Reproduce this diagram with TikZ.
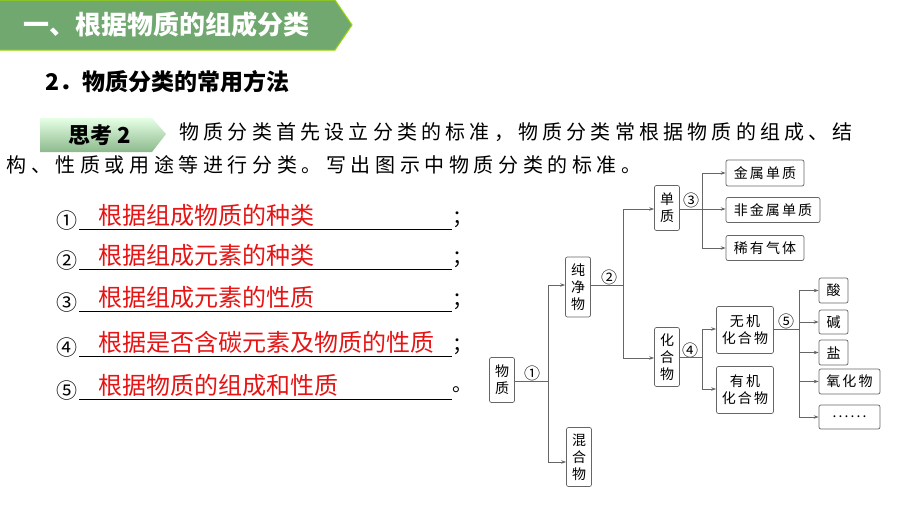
\documentclass[tikz,border=0pt]{standalone}
\usepackage{fontspec}
\setmainfont{Noto Sans CJK SC}
\usetikzlibrary{arrows.meta}
\definecolor{hdr}{RGB}{112,168,112}
\definecolor{ans}{RGB}{230,20,20}
\begin{document}
\begin{tikzpicture}[x=1pt,y=-1pt,
 bx/.style={draw=gray!80!black,rounded corners=2pt,line width=0.7pt,inner sep=1pt,font=\fontsize{14}{17}\selectfont\addfontfeature{LetterSpace=15},align=center,fill=white},
 ln/.style={draw=gray!80!black,line width=0.7pt},
 ar/.style={ln,-{Stealth[length=5pt,width=3.5pt]}},
 cn/.style={font=\fontsize{16}{16}\selectfont},
 ul/.style={line width=0.7pt}]
\useasboundingbox (0,0) rectangle (900,506);
% header
\fill[hdr] (0,0) -- (335,0) -- (352,25) -- (335,50) -- (0,50) -- cycle;
\draw[green!60!black!40!yellow,line width=1pt] (0,0) -- (335,0) -- (352,25) -- (335,50) -- (0,50);
\node[anchor=west,text=white,font=\fontsize{26}{28}\selectfont\bfseries] (h) at (20,25) {一、根据物质的组成分类};
\node[anchor=west,font=\fontsize{23}{25}\selectfont\bfseries] (s) at (42,82) {2．物质分类的常用方法};
% badge
\shade[top color=green!10!white,bottom color=hdr!80] (40,118) -- (152,118) -- (166,134) -- (152,152) -- (40,152) -- cycle;
\node[font=\fontsize{22}{24}\selectfont\bfseries] (b) at (100,135) {思考 2};
% paragraph
\node[anchor=west,font=\fontsize{20}{22}\selectfont\addfontfeature{LetterSpace=21}] (p1) at (176,132) {物质分类首先设立分类的标准，物质分类常根据物质的组成、结};
\node[anchor=west,font=\fontsize{20}{22}\selectfont\addfontfeature{LetterSpace=23}] (p2) at (3,165) {构、性质或用途等进行分类。写出图示中物质分类的标准。};
% answers
\foreach \y/\n/\t/\e in {218/①/根据组成物质的种类/；,258/②/根据组成元素的种类/；,300/③/根据组成元素的性质/；,345/④/根据是否含碳元素及物质的性质/；,388/⑤/根据物质的组成和性质/。}{
 \node[font=\fontsize{21}{22}\selectfont] at (67,\y+3) {\n};
 \draw[ul] (79,\y+11) -- (452,\y+11);
 \node[anchor=west,text=ans,font=\fontsize{24}{26}\selectfont] at (95,\y-3) {\t};
 \node[font=\fontsize{20}{22}\selectfont] at (462,\y+2) {\e};
}
% tree
\node[bx,minimum width=25pt,minimum height=45pt] (wz) at (502,380) {物\\质};
\node[bx,minimum width=25pt,minimum height=60pt] (cjw) at (578,287) {纯\\净\\物};
\node[bx,minimum width=25pt,minimum height=59pt] (hhw) at (579,457) {混\\合\\物};
\node[bx,minimum width=25pt,minimum height=45pt] (dz) at (667,208) {单\\质};
\node[bx,minimum width=25pt,minimum height=59pt] (hhe) at (667,357) {化\\合\\物};
\node[bx,minimum width=78pt,minimum height=26pt] (js) at (765,173) {金属单质};
\node[bx,minimum width=94pt,minimum height=25pt] (fjs) at (773,210) {非金属单质};
\node[bx,minimum width=78pt,minimum height=25pt] (xy) at (765,248) {稀有气体};
\node[bx,minimum width=57pt,minimum height=47pt] (wj) at (745,330) {无机\\化合物};
\node[bx,minimum width=57pt,minimum height=47pt] (yj) at (745,390) {有机\\化合物};
\node[bx,minimum width=29pt,minimum height=25pt] (s1) at (833.5,290.5) {酸};
\node[bx,minimum width=29pt,minimum height=24pt] (s2) at (833.5,322) {碱};
\node[bx,minimum width=29pt,minimum height=25pt] (s3) at (833.5,352.5) {盐};
\node[bx,minimum width=61pt,minimum height=25pt] (s4) at (849.5,381.5) {氧化物};
\node[bx,minimum width=61pt,minimum height=24pt] (s5) at (849.5,417) {......};
\node[cn] at (532,373) {①};
\node[cn] at (609,277) {②};
\node[cn] at (691,200) {③};
\node[cn] at (690,350) {④};
\node[cn] at (786,321) {⑤};
\coordinate (k1) at (548,381);
\draw[ln] (wz.east|-k1) -- (k1);
\draw[ar] (k1) |- (cjw.west|-548,285);
\draw[ar] (k1) |- (hhw.west|-548,462);
\coordinate (k2) at (623,285);
\draw[ln] (cjw.east|-k2) -- (k2);
\draw[ar] (k2) |- (dz.west|-623,209);
\draw[ar] (k2) |- (hhe.west|-623,358);
\coordinate (k3) at (702,209);
\draw[ln] (dz.east|-k3) -- (k3);
\draw[ar] (k3) |- (js.west);
\draw[ar] (k3) -- (fjs.west|-k3);
\draw[ar] (k3) |- (xy.west);
\coordinate (k4) at (702,357);
\draw[ln] (hhe.east|-k4) -- (k4);
\draw[ar] (k4) |- (wj.west|-702,329);
\draw[ar] (k4) |- (yj.west|-702,389);
\coordinate (k5) at (799,329);
\draw[ln] (wj.east|-k5) -- (k5);
\foreach \n in {s1,s2,s3,s4,s5}{\draw[ar] (k5) |- (\n.west);}
\end{tikzpicture}
\end{document}
